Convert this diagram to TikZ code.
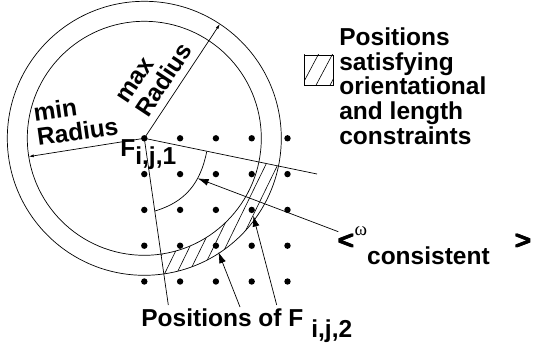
\documentclass[tikz,border=0pt]{standalone}
\usepackage{fontspec}
\setmainfont{Liberation Sans}
\newfontfamily\greekfont{Liberation Serif}
\newcommand{\thickglyph}[1]{{\fontsize{26}{26}\selectfont\rlap{#1}\kern0.7pt\rlap{#1}\kern0.7pt\rlap{#1}\kern0.7pt#1}}
\usetikzlibrary{arrows.meta,calc}

\begin{document}
\begin{tikzpicture}[x=1pt,y=-1pt,
		line width=0.7pt,
		every node/.style={font=\fontsize{24.5}{24.6}\selectfont\bfseries, inner sep=0pt},
		gridpt/.style={circle, fill, minimum size=6.4pt, inner sep=0pt},
		ptr/.style={-{Latex[length=11pt,width=7pt]}},
		radarrow/.style={-{Latex[length=5pt,width=3pt]}},
		hatch/.style={line width=0.6pt}
	]
	\useasboundingbox (0,0) rectangle (533,350);

	% hatched part of the ring
	\begin{scope}
		\clip ($(144.3,138.3)+(11.8:117)$) arc[start angle=11.8,end angle=81.8,radius=117]
		-- ($(144.3,138.3)+(81.8:137)$) arc[start angle=81.8,end angle=11.8,radius=137] -- cycle;
		\foreach \k in {-12,...,12}
		\draw[hatch] (171.3+12*\k,260) ++(116:160) -- ++(-64:320);
	\end{scope}

	% grid of positions
	\foreach \i in {0,...,4}
	\foreach \j in {0,...,4}
	\node[gridpt] (d\i\j) at (144.3+35.8*\i,138.3+35.8*\j) {};

	\draw (d00.center) circle (137);
	\draw (d00.center) circle (117);

	% radii
	\coordinate (maxend) at ($(d00.center)+(-56.5:137)$);
	\coordinate (minend) at ($(d00.center)+(171:117)$);
	\draw[radarrow] (d00.center) -- (maxend);
	\draw[radarrow] (d00.center) -- (minend);
	\node[rotate=56.5, align=left] (maxlab) at (155,74) {max\\Radius};
	\node[rotate=8, align=left] (minlab) at (75.8,119.4) {min\\Radius};

	% orientation wedge
	\coordinate (wup) at (317,174);
	\coordinate (wlow) at (168.3,305);
	\draw (d00.center) -- (wup);
	\draw (d00.center) -- (wlow);
	\draw (206.7,151.7) .. controls (200.3,183.7) and (185,202) .. (155,211)
	coordinate[pos=0.32] (omtip);

	\node[anchor=base west] (flab) at (120,156.7) {F\raisebox{-8pt}{i,j,1}};

	% legend
	\node[draw, line width=0.7pt, minimum width=29pt, minimum height=30pt, anchor=north west] (key) at (304,55) {};
	\begin{scope}
		\clip (key.south west) rectangle (key.north east);
		\foreach \x in {296.1,310.1,324.1,338.1}
		\draw[hatch] (\x,70) ++(118:20) -- ++(-62:40);
	\end{scope}
	\node[anchor=north west, align=left] (keytxt) at (339,27.5)
	{Positions\\satisfying\\orientational\\and length\\constraints};

	% omega label
	\node[anchor=base west] (omlab) at (337,249)
	{\thickglyph{<}\raisebox{14pt}{\greekfont\fontsize{19}{19}\selectfont\mdseries ω}\raisebox{-15pt}{consistent}};
	\node[anchor=base west] (omend) at (514,249) {\thickglyph{>}};
	\coordinate (omtail) at (338.3,231.7);
	\draw[ptr] (omtail) -- (omtip);

	% positions of F_{i,j,2}
	\node[anchor=base west] (poslab) at (141,326) {Positions of F\hspace{8pt}\raisebox{-11pt}{i,j,2}};
	\coordinate (t1) at (240,307);
	\coordinate (t2) at (276.7,305);
	\draw[ptr, shorten >=3.4pt] (t1) -- (d23);
	\draw[ptr, shorten >=2.3pt] (t2) -- (d32);
\end{tikzpicture}
\end{document}
